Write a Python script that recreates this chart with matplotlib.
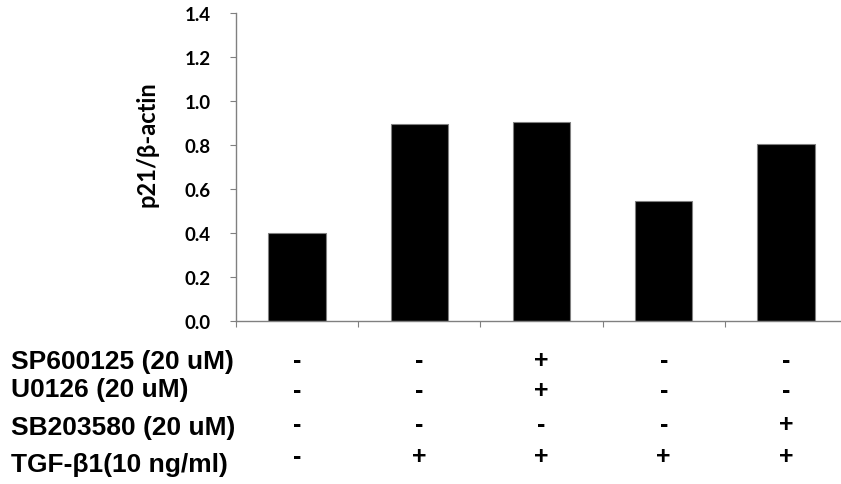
import numpy as np
import matplotlib.pyplot as plt
from matplotlib import transforms

# values
ratios = [0.40, 0.895, 0.905, 0.545, 0.805]
row_labels = ["SP600125 (20 uM)", "U0126 (20 uM)", "SB203580 (20 uM)", "TGF-\u03b21(10 ng/ml)"]
signs = [
    ["-", "-", "+", "-", "-"],
    ["-", "-", "+", "-", "-"],
    ["-", "-", "-", "-", "+"],
    ["-", "+", "+", "+", "+"],
]
y_ticks = [0.0, 0.2, 0.4, 0.6, 0.8, 1.0, 1.2, 1.4]

W, H = 841, 485
fig = plt.figure(figsize=(W / 100, H / 100), dpi=100)
# axes placed in pixel terms: left 236, right ~847, bottom 322, top 14
ax = fig.add_axes([236 / W, (H - 322) / H, (847 - 236) / W, (322 - 14) / H])

x = np.arange(len(ratios)) + 0.5
ax.bar(x, ratios, width=0.47, color="black", edgecolor="#808080", linewidth=0.8)

ax.set_xlim(0, 5)
ax.set_ylim(0, 1.4)
ax.set_yticks(y_ticks)
ax.set_yticklabels([f"{v:.1f}" for v in y_ticks], fontfamily="Lato", fontweight="bold", fontsize=13.5)
ax.set_xticks(np.arange(0, 6))
ax.set_xticklabels([])
for side in ["top", "right"]:
    ax.spines[side].set_visible(False)
for side in ["left", "bottom"]:
    ax.spines[side].set_color("#808080")
    ax.spines[side].set_linewidth(1.0)
ax.tick_params(axis="y", direction="out", length=4.5, color="#808080", pad=13.5)
ax.tick_params(axis="x", direction="out", length=4.5, color="#808080")
ax.set_ylabel("p21/\u03b2-actin", fontfamily="Lato", fontweight="bold", fontsize=17)
ax.yaxis.set_label_coords(158 / W, 1 - 144 / H, transform=fig.transFigure)

# treatment table under the bars
trans = transforms.blended_transform_factory(ax.transData, fig.transFigure)
row_y = [361, 391, 425, 457]
label_y = [362, 390, 428, 465]
for r, lab in enumerate(row_labels):
    fig.text(11 / W, 1 - label_y[r] / H, lab, ha="left", va="center",
             fontfamily="Liberation Sans", fontweight="bold", fontsize=19)
    for c, s in enumerate(signs[r]):
        ax.text(x[c], 1 - row_y[r] / H, s, transform=trans, ha="center", va="center",
                fontfamily="Liberation Sans", fontweight="bold", fontsize=18, clip_on=False)

fig.savefig("out.png", dpi=100)
